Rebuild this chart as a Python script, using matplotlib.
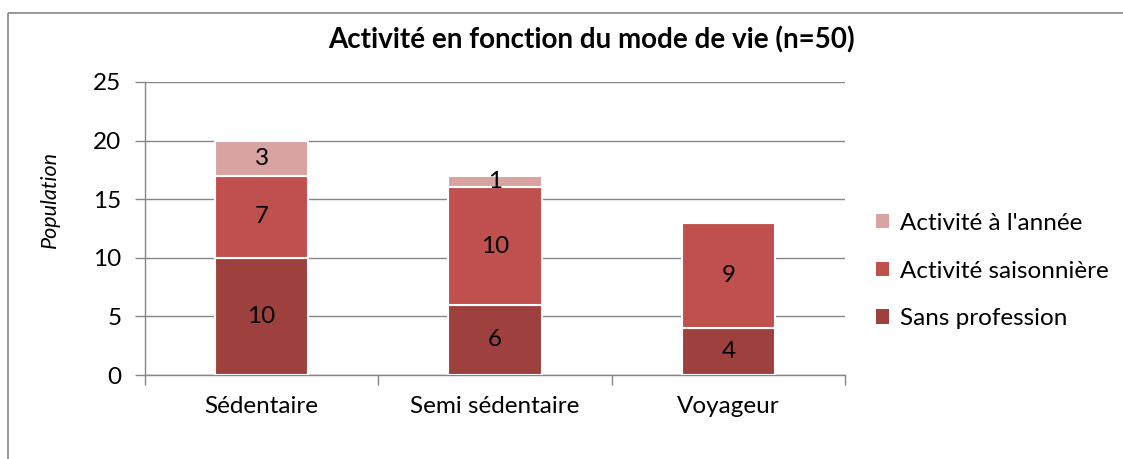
import matplotlib
matplotlib.use("Agg")
import matplotlib.pyplot as plt
from matplotlib.patches import Patch
from matplotlib.lines import Line2D
import numpy as np

categories = ["Sédentaire", "Semi sédentaire", "Voyageur"]
sans_profession = [10, 6, 4]
activite_saisonniere = [7, 10, 9]
activite_annee = [3, 1, 0]
series_names = ["Sans profession", "Activité saisonnière", "Activité à l'année"]
colors = ["#9E413E", "#C0504D", "#D9A3A2"]
yticks = [0, 5, 10, 15, 20, 25]

plt.rcParams['font.family'] = ['Lato', 'DejaVu Sans']

W, H = 1123, 459
fig = plt.figure(figsize=(W/100, H/100), dpi=100)
ax = fig.add_axes([145/W, 1-375/H, (845-145)/W, (375-82)/H])

x = np.arange(len(categories))
bottom = np.zeros(len(categories))
series = [sans_profession, activite_saisonniere, activite_annee]
for vals, c in zip(series, colors):
    vals = np.array(vals, dtype=float)
    ax.bar(x, vals, width=0.40, bottom=bottom, color=c,
           edgecolor="white", linewidth=1.5, zorder=3)
    for xi, v, b in zip(x, vals, bottom):
        if v > 0:
            ax.text(xi, b + v/2, f"{int(v)}", ha="center", va="center",
                    fontsize=17.5, color="black", zorder=4)
    bottom += vals

ax.set_xlim(-0.5, 2.5)
ax.set_ylim(0, 25)
ax.set_yticks(yticks)
ax.set_yticklabels([str(t) for t in yticks], fontsize=17.5)
ax.yaxis.grid(True, color="#868686", linewidth=1.0, zorder=0)
ax.set_axisbelow(True)
ax.set_xticks([-0.5, 0.5, 1.5, 2.5])
ax.set_xticklabels([])
ax.set_xticks(x, minor=True)
ax.set_xticklabels(categories, minor=True, fontsize=17.5)
ax.tick_params(axis="x", which="minor", length=0, pad=15)
ax.tick_params(axis="x", which="major", length=7, color="#868686", width=1)
ax.tick_params(axis="y", length=7, color="#868686", width=1, pad=10)
for s in ["top", "right"]:
    ax.spines[s].set_visible(False)
for s in ["left", "bottom"]:
    ax.spines[s].set_color("#868686")
    ax.spines[s].set_linewidth(1.0)

fig.text(50/W, 1-199/H, "Population", rotation=90, style="italic",
         fontsize=15.5, ha="center", va="center")
fig.text(591/W, 1-40/H, "Activité en fonction du mode de vie (n=50)",
         fontsize=20, fontweight="bold", ha="center", va="center")

handles = [Patch(facecolor=colors[i], edgecolor="none") for i in [2, 1, 0]]
labels = [series_names[i] for i in [2, 1, 0]]
fig.legend(handles, labels, loc="center left", bbox_to_anchor=(866/W, 1-271/H),
           frameon=False, fontsize=17.5, handlelength=0.55, handleheight=0.55,
           handletextpad=0.45, labelspacing=1.1, borderaxespad=0)

# chart border (outer frame, cropped on right/bottom)
fig.add_artist(Line2D([8/W, 8/W], [-0.1, 1-13/H], transform=fig.transFigure,
                      color="#868686", linewidth=1.2, solid_capstyle="butt"))
fig.add_artist(Line2D([8/W, 1.05], [1-13/H, 1-13/H], transform=fig.transFigure,
                      color="#868686", linewidth=1.2, solid_capstyle="butt"))

fig.savefig("out.png", dpi=100)
